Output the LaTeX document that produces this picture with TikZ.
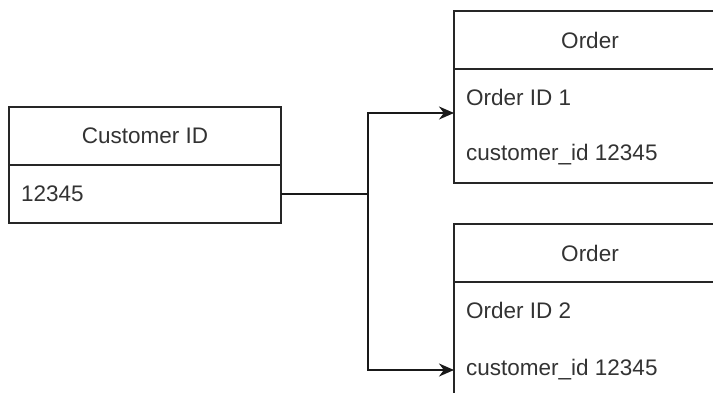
\documentclass[tikz,border=0pt]{standalone}
\usepackage{fontspec}
\setmainfont{Liberation Sans}
\usetikzlibrary{positioning,arrows.meta}

\tikzset{
  box/.style={draw=black!85, line width=2pt, outer sep=0pt, minimum width=272pt},
  hdr/.style={box, minimum height=58pt, text=black!80},
  body/.style={box},
  item/.style={anchor=west, inner xsep=12pt, text=black!80},
  conn/.style={line width=2pt, draw=black!90, -{Stealth[length=15pt,width=13pt]}}
}

\begin{document}
\begin{tikzpicture}[x=1pt, y=-1pt, font=\fontsize{22.5}{27}\selectfont]
			\useasboundingbox (0,0) rectangle (713,392);
			\clip (0,0) rectangle (713,392);
			\fill[white] (0,0) rectangle (713,392);
			% customer table
			\node[hdr] (cust) at (145,136) {Customer ID};
			\node[body, minimum height=58pt, below=0pt of cust] (custbody) {};
			\node[item] (custid) at (custbody.west) {12345};
			% first order
			\node[hdr] (ord1) at (590,40) {Order};
			\node[body, minimum height=114pt, below=0pt of ord1] (ord1body) {};
			\node[item] (ord1id) at ([yshift=-28pt]ord1body.north west) {Order ID 1};
			\node[item] (ord1cust) at ([yshift=28pt]ord1body.south west) {customer\_id 12345};
			% second order
			\node[hdr] (ord2) at (590,253) {Order};
			\node[body, minimum height=114pt, below=0pt of ord2] (ord2body) {};
			\node[item] (ord2id) at ([yshift=-28pt]ord2body.north west) {Order ID 2};
			\node[item] (ord2cust) at ([yshift=26pt]ord2body.south west) {customer\_id 12345};
			% links
			\coordinate (split) at ([xshift=87pt]custbody.east);
			\draw[line width=2pt, draw=black!90] (custbody.east) -- (split);
			\draw[conn] (split) |- ([yshift=-44pt]ord1body.north west);
			\draw[conn] (split) |- (ord2cust.west);
		\end{tikzpicture}
\end{document}
